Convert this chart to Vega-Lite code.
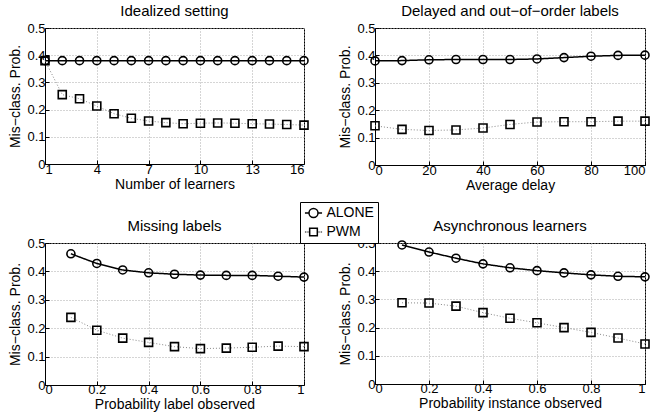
{
  "$schema": "https://vega.github.io/schema/vega-lite/v6.json",
  "padding": {"left": 8, "top": 3, "right": 0, "bottom": 0},
  "background": "white",
  "datasets": {
    "p1": [
      {"x":1,"y":0.38,"s":"ALONE"},{"x":2,"y":0.38,"s":"ALONE"},{"x":3,"y":0.38,"s":"ALONE"},{"x":4,"y":0.38,"s":"ALONE"},{"x":5,"y":0.38,"s":"ALONE"},{"x":6,"y":0.38,"s":"ALONE"},{"x":7,"y":0.38,"s":"ALONE"},{"x":8,"y":0.38,"s":"ALONE"},{"x":9,"y":0.38,"s":"ALONE"},{"x":10,"y":0.38,"s":"ALONE"},{"x":11,"y":0.38,"s":"ALONE"},{"x":12,"y":0.38,"s":"ALONE"},{"x":13,"y":0.38,"s":"ALONE"},{"x":14,"y":0.38,"s":"ALONE"},{"x":15,"y":0.38,"s":"ALONE"},{"x":16,"y":0.38,"s":"ALONE"},
      {"x":1,"y":0.38,"s":"PWM"},{"x":2,"y":0.255,"s":"PWM"},{"x":3,"y":0.24,"s":"PWM"},{"x":4,"y":0.213,"s":"PWM"},{"x":5,"y":0.185,"s":"PWM"},{"x":6,"y":0.168,"s":"PWM"},{"x":7,"y":0.158,"s":"PWM"},{"x":8,"y":0.152,"s":"PWM"},{"x":9,"y":0.148,"s":"PWM"},{"x":10,"y":0.15,"s":"PWM"},{"x":11,"y":0.151,"s":"PWM"},{"x":12,"y":0.15,"s":"PWM"},{"x":13,"y":0.148,"s":"PWM"},{"x":14,"y":0.147,"s":"PWM"},{"x":15,"y":0.145,"s":"PWM"},{"x":16,"y":0.143,"s":"PWM"}
    ],
    "p2": [
      {"x":0,"y":0.38,"s":"ALONE"},{"x":10,"y":0.381,"s":"ALONE"},{"x":20,"y":0.384,"s":"ALONE"},{"x":30,"y":0.385,"s":"ALONE"},{"x":40,"y":0.385,"s":"ALONE"},{"x":50,"y":0.385,"s":"ALONE"},{"x":60,"y":0.387,"s":"ALONE"},{"x":70,"y":0.392,"s":"ALONE"},{"x":80,"y":0.397,"s":"ALONE"},{"x":90,"y":0.4,"s":"ALONE"},{"x":100,"y":0.401,"s":"ALONE"},
      {"x":0,"y":0.143,"s":"PWM"},{"x":10,"y":0.13,"s":"PWM"},{"x":20,"y":0.126,"s":"PWM"},{"x":30,"y":0.128,"s":"PWM"},{"x":40,"y":0.135,"s":"PWM"},{"x":50,"y":0.148,"s":"PWM"},{"x":60,"y":0.157,"s":"PWM"},{"x":70,"y":0.158,"s":"PWM"},{"x":80,"y":0.158,"s":"PWM"},{"x":90,"y":0.16,"s":"PWM"},{"x":100,"y":0.16,"s":"PWM"}
    ],
    "p3": [
      {"x":0.1,"y":0.462,"s":"ALONE"},{"x":0.2,"y":0.428,"s":"ALONE"},{"x":0.3,"y":0.405,"s":"ALONE"},{"x":0.4,"y":0.395,"s":"ALONE"},{"x":0.5,"y":0.39,"s":"ALONE"},{"x":0.6,"y":0.387,"s":"ALONE"},{"x":0.7,"y":0.386,"s":"ALONE"},{"x":0.8,"y":0.386,"s":"ALONE"},{"x":0.9,"y":0.383,"s":"ALONE"},{"x":1.0,"y":0.38,"s":"ALONE"},
      {"x":0.1,"y":0.238,"s":"PWM"},{"x":0.2,"y":0.193,"s":"PWM"},{"x":0.3,"y":0.165,"s":"PWM"},{"x":0.4,"y":0.15,"s":"PWM"},{"x":0.5,"y":0.135,"s":"PWM"},{"x":0.6,"y":0.128,"s":"PWM"},{"x":0.7,"y":0.13,"s":"PWM"},{"x":0.8,"y":0.133,"s":"PWM"},{"x":0.9,"y":0.137,"s":"PWM"},{"x":1.0,"y":0.135,"s":"PWM"}
    ],
    "p4": [
      {"x":0.1,"y":0.493,"s":"ALONE"},{"x":0.2,"y":0.468,"s":"ALONE"},{"x":0.3,"y":0.446,"s":"ALONE"},{"x":0.4,"y":0.426,"s":"ALONE"},{"x":0.5,"y":0.412,"s":"ALONE"},{"x":0.6,"y":0.402,"s":"ALONE"},{"x":0.7,"y":0.394,"s":"ALONE"},{"x":0.8,"y":0.387,"s":"ALONE"},{"x":0.9,"y":0.382,"s":"ALONE"},{"x":1.0,"y":0.38,"s":"ALONE"},
      {"x":0.1,"y":0.288,"s":"PWM"},{"x":0.2,"y":0.287,"s":"PWM"},{"x":0.3,"y":0.276,"s":"PWM"},{"x":0.4,"y":0.253,"s":"PWM"},{"x":0.5,"y":0.233,"s":"PWM"},{"x":0.6,"y":0.217,"s":"PWM"},{"x":0.7,"y":0.2,"s":"PWM"},{"x":0.8,"y":0.183,"s":"PWM"},{"x":0.9,"y":0.163,"s":"PWM"},{"x":1.0,"y":0.142,"s":"PWM"}
    ]
  },
  "config": {
    "font": "Liberation Sans",
    "view": {"stroke": "black", "strokeWidth": 1},
    "title": {"fontSize": 15, "fontWeight": "normal", "font": "Liberation Sans", "offset": 3, "color": "black"},
    "axis": {
      "labelFont": "Liberation Sans", "labelFontSize": 13, "labelColor": "black",
      "titleFont": "Liberation Sans", "titleFontSize": 14, "titleFontWeight": "normal", "titleColor": "black",
      "domainColor": "black", "tickColor": "black", "tickSize": -4,
      "gridColor": "#aaa", "gridDash": [1, 2], "gridOpacity": 1
    },
    "axisY": {"titlePadding": 4, "labelPadding": 4},
    "axisX": {"titlePadding": 1, "labelPadding": 3},
    "legend": {
      "orient": "none", "legendX": 255, "legendY": 174, "title": null,
      "strokeColor": "black", "fillColor": "white", "padding": 4,
      "labelFontSize": 14, "labelFont": "Liberation Sans", "labelColor": "black",
      "symbolStrokeColor": "black", "symbolStrokeWidth": 1.5, "symbolFillColor": "transparent", "symbolOpacity": 1,
      "symbolSize": 81, "symbolOffset": 2.5, "labelOffset": 6, "rowPadding": 4
    }
  },
  "vconcat": [
    {
      "hconcat": [
        {
          "title": "Idealized setting",
          "width": 259, "height": 136,
          "data": {"name": "p1"},
          "encoding": {
            "x": {"field": "x", "type": "quantitative", "title": "Number of learners", "scale": {"domain": [1, 16], "nice": false}, "axis": {"values": [1, 4, 7, 10, 13, 16]}},
            "y": {"field": "y", "type": "quantitative", "title": "Mis−class. Prob.", "scale": {"domain": [0, 0.5], "nice": false}, "axis": {"values": [0, 0.1, 0.2, 0.3, 0.4, 0.5], "format": "~g"}}
          },
          "layer": [
            {"mark": {"type": "line"},
             "encoding": {
               "detail": {"field": "s", "type": "nominal"},
               "color": {"condition": {"test": "datum.s === 'PWM'", "value": "#888"}, "value": "black"},
               "strokeDash": {"condition": {"test": "datum.s === 'PWM'", "value": [1, 2]}, "value": [1, 0]},
               "strokeWidth": {"condition": {"test": "datum.s === 'PWM'", "value": 1}, "value": 1.5}
             }},
            {"mark": {"type": "point", "filled": false, "stroke": "black", "strokeWidth": 1.6, "size": 64, "opacity": 1},
             "encoding": {"shape": {"condition": {"test": "datum.s === 'PWM'", "value": "square"}, "value": "circle"}}},
            {"mark": {"type": "point", "filled": false, "stroke": "black", "opacity": 0},
             "encoding": {
               "shape": {"field": "s", "type": "nominal", "title": null,
                 "scale": {"domain": ["ALONE", "PWM"], "range": ["M-1,0A1,1 0 1,1 1,0A1,1 0 1,1 -1,0Z M-1.9,0L-1,0 M1,0L1.9,0", "M-0.85,-0.85L0.85,-0.85L0.85,0.85L-0.85,0.85Z M-1.9,0L-1.75,0M-1.5,0L-1.35,0M-1.1,0L-0.95,0M0.95,0L1.1,0M1.35,0L1.5,0M1.75,0L1.9,0"]},
                 "legend": {"orient": "none", "legendX": 255, "legendY": 174, "title": null, "symbolOpacity": 1}}
             }}
          ]
        },
        {
          "title": "Delayed and out−of−order labels",
          "width": 270, "height": 137,
          "data": {"name": "p2"},
          "encoding": {
            "x": {"field": "x", "type": "quantitative", "title": "Average delay", "scale": {"domain": [0, 100], "nice": false}, "axis": {"values": [0, 20, 40, 60, 80, 100]}},
            "y": {"field": "y", "type": "quantitative", "title": "Mis−class. Prob.", "scale": {"domain": [0, 0.5], "nice": false}, "axis": {"values": [0, 0.1, 0.2, 0.3, 0.4, 0.5], "format": "~g"}}
          },
          "layer": [
            {"mark": {"type": "line"},
             "encoding": {
               "detail": {"field": "s", "type": "nominal"},
               "color": {"condition": {"test": "datum.s === 'PWM'", "value": "#888"}, "value": "black"},
               "strokeDash": {"condition": {"test": "datum.s === 'PWM'", "value": [1, 2]}, "value": [1, 0]},
               "strokeWidth": {"condition": {"test": "datum.s === 'PWM'", "value": 1}, "value": 1.5}
             }},
            {"mark": {"type": "point", "filled": false, "stroke": "black", "strokeWidth": 1.6, "size": 64, "opacity": 1},
             "encoding": {"shape": {"condition": {"test": "datum.s === 'PWM'", "value": "square"}, "value": "circle"}}}
          ]
        }
      ],
      "spacing": 26
    },
    {
      "hconcat": [
        {
          "title": "Missing labels",
          "width": 259, "height": 142,
          "data": {"name": "p3"},
          "encoding": {
            "x": {"field": "x", "type": "quantitative", "title": "Probability label observed", "scale": {"domain": [0, 1], "nice": false}, "axis": {"values": [0, 0.2, 0.4, 0.6, 0.8, 1], "format": "~g", "labelPadding": 2, "titlePadding": 1}},
            "y": {"field": "y", "type": "quantitative", "title": "Mis−class. Prob.", "scale": {"domain": [0, 0.5], "nice": false}, "axis": {"values": [0, 0.1, 0.2, 0.3, 0.4, 0.5], "format": "~g"}}
          },
          "layer": [
            {"mark": {"type": "line"},
             "encoding": {
               "detail": {"field": "s", "type": "nominal"},
               "color": {"condition": {"test": "datum.s === 'PWM'", "value": "#888"}, "value": "black"},
               "strokeDash": {"condition": {"test": "datum.s === 'PWM'", "value": [1, 2]}, "value": [1, 0]},
               "strokeWidth": {"condition": {"test": "datum.s === 'PWM'", "value": 1}, "value": 1.5}
             }},
            {"mark": {"type": "point", "filled": false, "stroke": "black", "strokeWidth": 1.6, "size": 64, "opacity": 1},
             "encoding": {"shape": {"condition": {"test": "datum.s === 'PWM'", "value": "square"}, "value": "circle"}}}
          ]
        },
        {
          "title": "Asynchronous learners",
          "width": 270, "height": 141,
          "data": {"name": "p4"},
          "encoding": {
            "x": {"field": "x", "type": "quantitative", "title": "Probability instance observed", "scale": {"domain": [0, 1], "nice": false}, "axis": {"values": [0, 0.2, 0.4, 0.6, 0.8, 1], "format": "~g", "labelPadding": 2, "titlePadding": 1}},
            "y": {"field": "y", "type": "quantitative", "title": "Mis−class. Prob.", "scale": {"domain": [0, 0.5], "nice": false}, "axis": {"values": [0, 0.1, 0.2, 0.3, 0.4, 0.5], "format": "~g"}}
          },
          "layer": [
            {"mark": {"type": "line"},
             "encoding": {
               "detail": {"field": "s", "type": "nominal"},
               "color": {"condition": {"test": "datum.s === 'PWM'", "value": "#888"}, "value": "black"},
               "strokeDash": {"condition": {"test": "datum.s === 'PWM'", "value": [1, 2]}, "value": [1, 0]},
               "strokeWidth": {"condition": {"test": "datum.s === 'PWM'", "value": 1}, "value": 1.5}
             }},
            {"mark": {"type": "point", "filled": false, "stroke": "black", "strokeWidth": 1.6, "size": 64, "opacity": 1},
             "encoding": {"shape": {"condition": {"test": "datum.s === 'PWM'", "value": "square"}, "value": "circle"}}}
          ]
        }
      ],
      "spacing": 26
    }
  ],
  "spacing": 25
}
